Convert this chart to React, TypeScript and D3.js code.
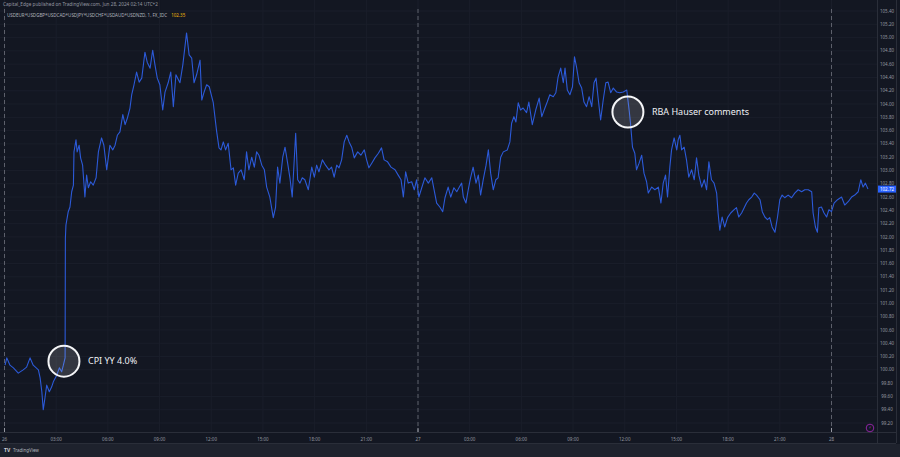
import React from "react";
import * as d3 from "d3";

// Time: minutes since 26 Jun 00:00 (UTC+2); value: basket index
const jun26Morning: [number, number][] = [
  [2, 100.07], [8, 100.18], [19, 100.07], [31, 100.03], [48, 99.95], [65, 100.0], [77, 100.04], [89, 100.18],
  [100, 100.07], [118, 100.0], [124, 99.88], [130, 99.67], [135, 99.4], [141, 99.58], [147, 99.77], [156, 99.67],
  [164, 99.74], [170, 99.82], [182, 99.92], [191, 100.03], [199, 99.97], [205, 100.07], [211, 100.18], [212, 101.98],
  [214, 102.18], [222, 102.38], [228, 102.45], [234, 102.68], [240, 102.78], [242, 103.28], [249, 103.46], [253, 103.28],
  [260, 103.38], [265, 103.19], [272, 103.08], [280, 102.6], [286, 102.93], [292, 102.74], [300, 102.83], [309, 102.78],
  [319, 102.89], [327, 103.28], [338, 103.49], [346, 103.38], [356, 103.01], [367, 103.38], [377, 103.31], [385, 103.38],
  [393, 103.53], [402, 103.58], [412, 103.84], [420, 103.69], [428, 103.79], [437, 103.94], [443, 104.14], [451, 104.29],
  [460, 104.48], [469, 104.33], [478, 104.39], [489, 104.78], [497, 104.63], [507, 104.54], [516, 104.81], [524, 104.59],
  [532, 104.39], [541, 104.29], [551, 103.91], [559, 104.18], [570, 104.32], [579, 104.48], [588, 103.96], [597, 104.44],
  [611, 104.32], [621, 104.59], [634, 105.07], [643, 104.74], [652, 104.69], [660, 104.32], [669, 104.44], [681, 104.66],
  [687, 104.06], [695, 104.18], [704, 104.29], [713, 104.26], [727, 104.02],
];

const jun26Afternoon: [number, number][] = [
  [739, 103.58], [747, 103.34], [754, 103.31], [762, 103.43], [770, 103.31], [779, 103.41], [789, 103.01], [797, 103.04],
  [805, 102.78], [814, 102.96], [824, 103.01], [835, 102.86], [843, 103.28], [851, 103.01], [861, 103.2], [870, 103.05],
  [878, 103.28], [886, 103.23], [896, 103.08], [905, 103.01], [913, 102.75], [924, 102.6], [936, 102.29], [944, 102.45],
  [951, 103.05], [959, 102.81], [969, 103.2], [977, 103.35], [986, 103.11], [994, 102.89], [1002, 102.6], [1014, 103.56],
  [1021, 102.86], [1029, 102.81], [1037, 102.89], [1046, 102.86], [1058, 102.71], [1070, 103.05], [1079, 102.9], [1087, 103.08],
  [1095, 102.98], [1107, 103.16], [1118, 103.08], [1130, 103.01], [1139, 103.05], [1148, 102.9], [1157, 103.08], [1165, 103.04],
  [1174, 103.16], [1183, 103.43], [1192, 103.53], [1200, 103.43], [1209, 103.35], [1218, 103.19], [1230, 103.28], [1241, 103.23],
  [1253, 103.31], [1261, 103.16], [1269, 103.04], [1279, 103.11], [1290, 103.19], [1302, 103.26], [1313, 103.34], [1322, 103.16],
  [1334, 103.13], [1346, 103.05], [1360, 103.01], [1371, 102.93], [1381, 102.86], [1389, 102.6], [1397, 102.98], [1406, 102.81],
  [1418, 102.83], [1427, 102.71], [1435, 102.86],
];

const jun27Morning: [number, number][] = [
  [1443, 102.6], [1453, 102.74], [1464, 102.89], [1476, 102.81], [1488, 102.89], [1505, 102.51], [1516, 102.45], [1526, 102.38],
  [1534, 102.59], [1545, 102.75], [1554, 102.6], [1565, 102.74], [1575, 102.68], [1584, 102.75], [1592, 102.81], [1598, 102.6],
  [1607, 102.51], [1615, 102.71], [1623, 102.89], [1632, 103.05], [1642, 102.81], [1650, 102.93], [1658, 102.63], [1667, 102.86],
  [1677, 103.08], [1685, 103.31], [1693, 102.96], [1702, 102.71], [1711, 102.86], [1719, 102.89], [1728, 103.2], [1737, 103.28],
  [1751, 103.31], [1760, 103.43], [1766, 103.71], [1774, 103.81], [1781, 103.73], [1789, 104.02], [1797, 103.91], [1806, 103.94],
  [1818, 103.87], [1826, 104.03], [1838, 103.69], [1850, 103.91], [1862, 104.09], [1871, 103.81], [1882, 103.94], [1890, 104.03],
  [1899, 104.14], [1911, 104.11], [1920, 104.17], [1928, 104.41], [1937, 104.54], [1946, 104.32], [1952, 104.54], [1960, 104.21],
  [1969, 104.14], [1978, 104.26], [1985, 104.71], [1992, 104.56], [2001, 104.32], [2010, 104.24], [2018, 104.03], [2027, 103.96],
  [2036, 104.11], [2045, 103.96], [2053, 104.32], [2060, 104.39], [2068, 104.06], [2076, 103.76], [2085, 104.06], [2094, 104.32],
  [2102, 104.33], [2111, 104.17], [2120, 104.24], [2132, 104.18], [2143, 104.17], [2155, 104.18], [2167, 104.21],
];

const jun27Afternoon: [number, number][] = [
  [2176, 103.88], [2180, 103.71], [2187, 103.35], [2195, 103.26], [2201, 103.01], [2210, 103.11], [2219, 103.23], [2227, 102.96],
  [2236, 102.83], [2242, 102.66], [2254, 102.75], [2265, 102.71], [2277, 102.75], [2286, 102.51], [2294, 102.81], [2302, 102.93],
  [2309, 102.6], [2317, 103.05], [2323, 103.31], [2332, 103.49], [2341, 103.31], [2346, 103.46], [2352, 103.53], [2358, 103.31],
  [2367, 103.35], [2375, 103.16], [2383, 102.9], [2393, 103.01], [2402, 102.86], [2410, 103.19], [2418, 102.93], [2428, 102.75],
  [2437, 102.86], [2445, 102.71], [2453, 103.13], [2462, 102.86], [2471, 102.81], [2480, 102.66], [2485, 102.36], [2491, 102.1],
  [2499, 102.3], [2508, 102.15], [2518, 102.29], [2529, 102.36], [2541, 102.41], [2549, 102.44], [2557, 102.3], [2567, 102.36],
  [2576, 102.44], [2584, 102.51], [2592, 102.56], [2602, 102.6], [2611, 102.66], [2619, 102.63], [2631, 102.56], [2639, 102.38],
  [2648, 102.3], [2657, 102.26], [2665, 102.29], [2673, 102.15], [2683, 102.07], [2692, 102.3], [2700, 102.56], [2708, 102.63],
  [2717, 102.59], [2729, 102.63], [2741, 102.59], [2752, 102.66], [2764, 102.71], [2776, 102.68], [2787, 102.71], [2799, 102.71],
  [2811, 102.68], [2816, 102.36], [2824, 102.15], [2831, 102.07], [2836, 102.44], [2845, 102.45], [2854, 102.36], [2863, 102.3],
  [2871, 102.41],
];

const jun28Early: [number, number][] = [
  [2880, 102.38], [2889, 102.51], [2901, 102.56], [2915, 102.6], [2926, 102.48], [2938, 102.53], [2950, 102.6], [2961, 102.63],
  [2973, 102.68], [2982, 102.86], [2990, 102.75], [2998, 102.81], [3007, 102.72],
];

const timeTickLabels = [
  "26", "03:00", "06:00", "09:00", "12:00", "15:00", "18:00", "21:00",
  "27", "03:00", "06:00", "09:00", "12:00", "15:00", "18:00", "21:00", "28",
];
const dayBreaks = [0, 1440, 2880];
const priceTicks = d3.range(0, 32).map((i) => 99.2 + i * 0.2);

const annotations = [
  { minute: 207, value: 100.13, text: "CPI YY 4.0%" },
  { minute: 2171, value: 103.88, text: "RBA Hauser comments" },
];

const headerText = "Capital_Edge published on TradingView.com, Jun 28, 2024 02:14 UTC+2";
const symbolText = "USDEUR*USDGBP*USDCAD*USDJPY*USDCHF*USDAUD*USDNZD, 1, FX_IDC";
const legendValue = "102.35";

const W = 900;
const H = 457;
const plotRight = 877;
const axisRight = 896;
const plotBottom = 432;
const axisBottom = 443;

export default function App() {
  const data = [...jun26Morning, ...jun26Afternoon, ...jun27Morning, ...jun27Afternoon, ...jun28Early];
  const x = d3.scaleLinear().domain([0, 2880]).range([4.5, 831.5]);
  const y = d3.scaleLinear().domain([99.2, 105.4]).range([423, 11]);
  const line = d3
    .line<[number, number]>()
    .x((d) => x(d[0]))
    .y((d) => y(d[1]))
    .curve(d3.curveLinear);
  const last = data[data.length - 1];
  const font = "'Noto Sans', 'DejaVu Sans', sans-serif";

  return (
    <svg
      width={W}
      height={H}
      style={{ position: "absolute", left: 0, top: 0, display: "block" }}
      fontFamily={font}
    >
      <rect x={0} y={0} width={W} height={H} fill="#131722" />
      {/* grid */}
      {priceTicks.map((t, i) => (
        <line key={"hg" + i} x1={0} x2={plotRight} y1={y(t)} y2={y(t)} stroke="#1a1e2a" strokeWidth={1} />
      ))}
      {timeTickLabels.map((_, i) => (
        <line key={"vg" + i} x1={x(i * 180)} x2={x(i * 180)} y1={0} y2={plotBottom} stroke="#1a1e2a" strokeWidth={1} />
      ))}
      {/* day separators */}
      {dayBreaks.map((m, i) => (
        <line
          key={"db" + i}
          x1={x(m)}
          x2={x(m)}
          y1={9}
          y2={plotBottom}
          stroke="#5d606b"
          strokeWidth={1}
          strokeDasharray="4 3"
        />
      ))}
      {/* series */}
      <path d={line(data) || ""} fill="none" stroke="#2c5ad8" strokeWidth={1.1} strokeLinejoin="round" />

      {/* annotations */}
      {annotations.map((a, i) => (
        <g key={"an" + i}>
          <circle
            cx={x(a.minute)}
            cy={y(a.value)}
            r={15.5}
            fill="rgba(255,255,255,0.14)"
            stroke="#f4f5f7"
            strokeWidth={2}
          />
          <text x={x(a.minute) + 24} y={y(a.value)} dy="0.35em" fontSize={9} fill="#eef0f4">
            {a.text}
          </text>
        </g>
      ))}

      {/* header */}
      <text x={3} y={6} fontSize={4.7} fill="#9598a1">
        {headerText}
      </text>
      <text x={7} y={17} fontSize={4.5} fill="#b2b5be">
        {symbolText}
        <tspan dx={4} fill="#f0b90b">
          {legendValue}
        </tspan>
      </text>

      {/* axes frame */}
      <line x1={plotRight + 0.5} x2={plotRight + 0.5} y1={0} y2={axisBottom} stroke="#2a2e39" />
      <line x1={axisRight + 0.5} x2={axisRight + 0.5} y1={0} y2={axisBottom} stroke="#2a2e39" />
      <line x1={0} x2={axisRight} y1={plotBottom + 0.5} y2={plotBottom + 0.5} stroke="#2a2e39" />
      <line x1={0} x2={axisRight} y1={axisBottom + 0.5} y2={axisBottom + 0.5} stroke="#2a2e39" />

      {/* price axis */}
      {priceTicks.map((t, i) => (
        <text key={"pt" + i} x={887} y={y(t)} dy="0.35em" fontSize={4.5} fill="#9598a1" textAnchor="middle">
          {t.toFixed(2)}
        </text>
      ))}
      <rect x={plotRight + 1} y={y(last[1]) - 3.5} width={axisRight - plotRight - 1} height={7} fill="#2962ff" />
      <text x={887} y={y(last[1])} dy="0.35em" fontSize={4.5} fill="#ffffff" textAnchor="middle">
        {last[1].toFixed(2)}
      </text>

      {/* time axis */}
      {timeTickLabels.map((lab, i) => (
        <text key={"tt" + i} x={x(i * 180)} y={439} dy="0.35em" fontSize={4.5} fill="#9598a1" textAnchor="middle">
          {lab}
        </text>
      ))}
      {dayBreaks.map((m, i) => (
        <line key={"dt" + i} x1={x(m)} x2={x(m)} y1={428} y2={plotBottom} stroke="#9598a1" />
      ))}

      {/* footer */}
      <rect x={0} y={axisBottom + 1} width={W} height={H - axisBottom - 1} fill="#1e222d" />
      <text x={4} y={452} fontSize={5} fill="#d1d4dc" fontWeight={700}>
        TV
      </text>
      <text x={13} y={452} fontSize={4.5} fill="#b2b5be">
        TradingView
      </text>

      {/* indicator icon */}
      <circle cx={870} cy={428} r={3.8} fill="#131722" stroke="#9c27b0" strokeWidth={0.9} />
      <text x={870} y={428} dy="0.35em" fontSize={4} fill="#9c27b0" textAnchor="middle">
        ⚡
      </text>
    </svg>
  );
}
